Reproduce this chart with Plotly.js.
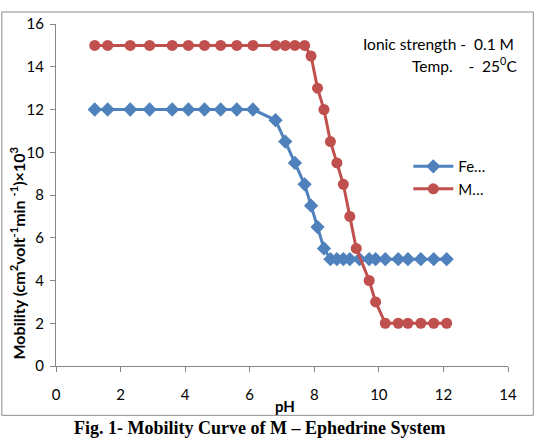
<!DOCTYPE html>
<html>
<head>
<meta charset="utf-8">
<script src="https://cdn.plot.ly/plotly-3.0.1.min.js"></script>
<style>
html,body{margin:0;padding:0;background:#fff;}
#chart{width:538px;height:438px;}
</style>
</head>
<body>
<div id="chart"></div>
<script>
const phFe = [1.2,1.6,2.3,2.9,3.6,4.1,4.6,5.1,5.6,6.1,6.8,7.1,7.4,7.7,7.9,8.1,8.3,8.5,8.7,8.9,9.1,9.4,9.7,9.9,10.2,10.6,10.9,11.3,11.7,12.1];
const mobFe = [12,12,12,12,12,12,12,12,12,12,11.5,10.5,9.5,8.5,7.5,6.5,5.5,5,5,5,5,5,5,5,5,5,5,5,5,5];
const phM = [1.2,1.6,2.3,2.9,3.6,4.1,4.6,5.1,5.6,6.1,6.8,7.1,7.4,7.7,7.9,8.1,8.3,8.5,8.7,8.9,9.1,9.3,9.7,9.9,10.2,10.6,10.9,11.3,11.7,12.1];
const mobM = [15,15,15,15,15,15,15,15,15,15,15,15,15,15,14.5,13,12,10.5,9.5,8.5,7,5.5,4,3,2,2,2,2,2,2];
const seriesNames = ['Fe…','M…'];
const xTicks = [0,2,4,6,8,10,12,14];
const yTicks = [0,2,4,6,8,10,12,14,16];

const font = 'Lato, "Open Sans", sans-serif';
const axisColor = '#868686';

const traces = [
  {x: phFe, y: mobFe, name: seriesNames[0], mode: 'lines+markers', type: 'scatter',
   line: {color: '#4F81BD', width: 3}, marker: {symbol: 'diamond', size: 11, color: '#4F81BD'}},
  {x: phM, y: mobM, name: seriesNames[1], mode: 'lines+markers', type: 'scatter',
   line: {color: '#C0504D', width: 3}, marker: {symbol: 'circle', size: 11, color: '#C0504D'}}
];

const L = 55.7, R = 507.7, T = 24, B = 365.7;
const W = R - L, H = B - T;
const px = v => (v - L) / W;
const py = v => (B - v) / H;

const layout = {
  width: 538, height: 438,
  margin: {l: L, r: 538 - R, t: T, b: 438 - B},
  paper_bgcolor: '#fff', plot_bgcolor: '#fff',
  font: {family: font, size: 15, color: '#000'},
  showlegend: true,
  legend: {x: px(408), y: py(150), xanchor: 'left', yanchor: 'top', bgcolor: 'rgba(0,0,0,0)',
           font: {family: font, size: 15, color: '#000'}, tracegroupgap: 0, itemwidth: 40},
  xaxis: {range: [0, 14], tickvals: xTicks, ticks: 'outside', ticklen: 5, tickcolor: axisColor,
          showline: true, linecolor: axisColor, linewidth: 1, showgrid: false, zeroline: false,
          ticklabelstandoff: 10,
          tickfont: {family: font, size: 15, color: '#000'}, fixedrange: true},
  yaxis: {range: [0, 16], tickvals: yTicks, ticks: 'outside', ticklen: 5, tickcolor: axisColor,
          showline: true, linecolor: axisColor, linewidth: 1, showgrid: false, zeroline: false,
          ticklabelstandoff: 3,
          tickfont: {family: font, size: 15, color: '#000'}, fixedrange: true},
  annotations: [
    {text: 'Ionic strength -  0.1 M', xref: 'paper', yref: 'paper', x: px(516), y: py(44),
     xanchor: 'right', yanchor: 'middle', showarrow: false, font: {family: font, size: 15.5, color: '#000'}},
    {text: 'Temp.    -  25<sup>0</sup>C', xref: 'paper', yref: 'paper', x: px(519), y: py(64),
     xanchor: 'right', yanchor: 'middle', showarrow: false, font: {family: font, size: 15.5, color: '#000'}},
    {text: '<b>pH</b>', xref: 'paper', yref: 'paper', x: px(285), y: py(406),
     xanchor: 'center', yanchor: 'middle', showarrow: false, font: {family: font, size: 15, color: '#000'}},
    {text: '<b>Mobility (cm<sup>2</sup>volt<sup>-1</sup>min <sup>-1</sup>)×10<sup>3</sup></b>', xref: 'paper', yref: 'paper',
     x: px(17), y: py(253), textangle: -90, xanchor: 'center', yanchor: 'middle', showarrow: false,
     font: {family: font, size: 16, color: '#000'}},
    {text: '<b>Fig. 1- Mobility Curve of M – Ephedrine System</b>', xref: 'paper', yref: 'paper',
     x: px(259), y: py(428), xanchor: 'center', yanchor: 'middle', showarrow: false,
     font: {family: '"Liberation Serif", "Times New Roman", serif', size: 18, color: '#000'}}
  ],
  shapes: [
    {type: 'rect', xref: 'paper', yref: 'paper', x0: px(1.5), x1: px(533), y0: py(415), y1: py(12),
     line: {color: '#8c8c8c', width: 1}, fillcolor: 'rgba(0,0,0,0)', layer: 'below'}
  ]
};

Plotly.newPlot('chart', traces, layout, {staticPlot: true, displayModeBar: false});
</script>
</body>
</html>
